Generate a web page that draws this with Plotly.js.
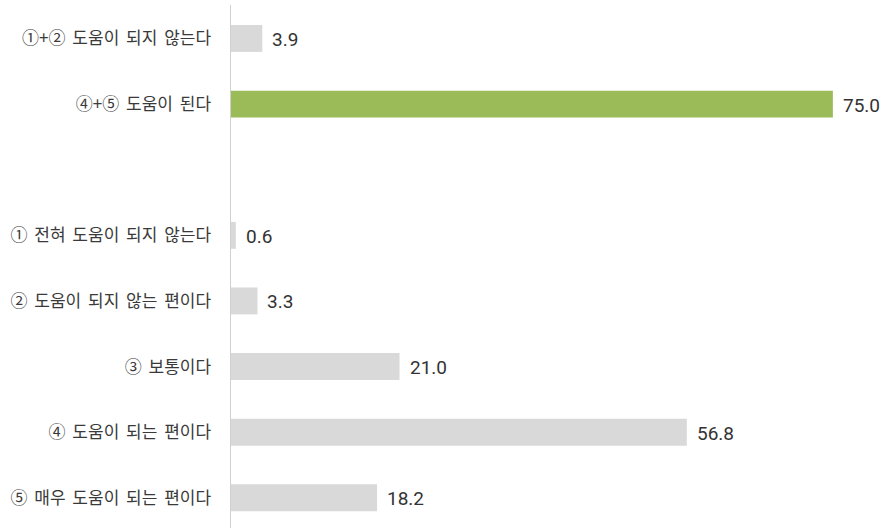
<!DOCTYPE html>
<html>
<head>
<meta charset="utf-8">
<script src="https://cdn.plot.ly/plotly-3.0.1.min.js"></script>
<style>html,body{margin:0;padding:0;background:#fff;}#chart{width:888px;height:528px;}
.ytick text{word-spacing:3px;}</style>
</head>
<body>
<div id="chart"></div>
<script>
const categories = ["①+② 도움이 되지 않는다", "④+⑤ 도움이 된다", " ", "① 전혀 도움이 되지 않는다", "② 도움이 되지 않는 편이다", "③ 보통이다", "④ 도움이 되는 편이다", "⑤ 매우 도움이 되는 편이다"];
const values = [3.9, 75.0, null, 0.6, 3.3, 21.0, 56.8, 18.2];
const barColors = ["#d9d9d9", "#9bbb59", "#d9d9d9", "#d9d9d9", "#d9d9d9", "#d9d9d9", "#d9d9d9", "#d9d9d9"];

const annotations = [];
categories.forEach((c, i) => {
  if (values[i] === null) return;
  annotations.push({
    x: values[i], y: c, xref: 'x', yref: 'y',
    text: values[i].toFixed(1), showarrow: false,
    xanchor: 'left', xshift: 8, yshift: -1,
    font: {family: 'Roboto, "Noto Sans CJK KR", sans-serif', size: 19, color: '#333333'}
  });
});

const trace = {
  type: 'bar', orientation: 'h',
  x: values, y: categories,
  marker: {color: barColors},
  width: 0.41,
  hoverinfo: 'none'
};

const layout = {
  width: 888, height: 528,
  margin: {l: 231, r: 15, t: 5, b: 0},
  paper_bgcolor: '#ffffff', plot_bgcolor: '#ffffff',
  showlegend: false,
  font: {family: '"Noto Sans CJK KR", sans-serif', color: '#404040'},
  xaxis: {range: [0, 80], showgrid: false, zeroline: false, showticklabels: false, showline: false, fixedrange: true},
  yaxis: {
    type: 'category', categoryorder: 'array', categoryarray: categories,
    range: [7.46, -0.51], showgrid: false, zeroline: false,
    showline: true, linecolor: '#d0d0d0', linewidth: 1.5,
    ticks: '', ticklabelstandoff: 15,
    tickfont: {family: '"Noto Sans CJK KR", sans-serif', size: 17, color: '#3a3a3a'}
  },
  annotations: annotations
};

Plotly.newPlot('chart', [trace], layout, {displayModeBar: false, staticPlot: true});
</script>
</body>
</html>
